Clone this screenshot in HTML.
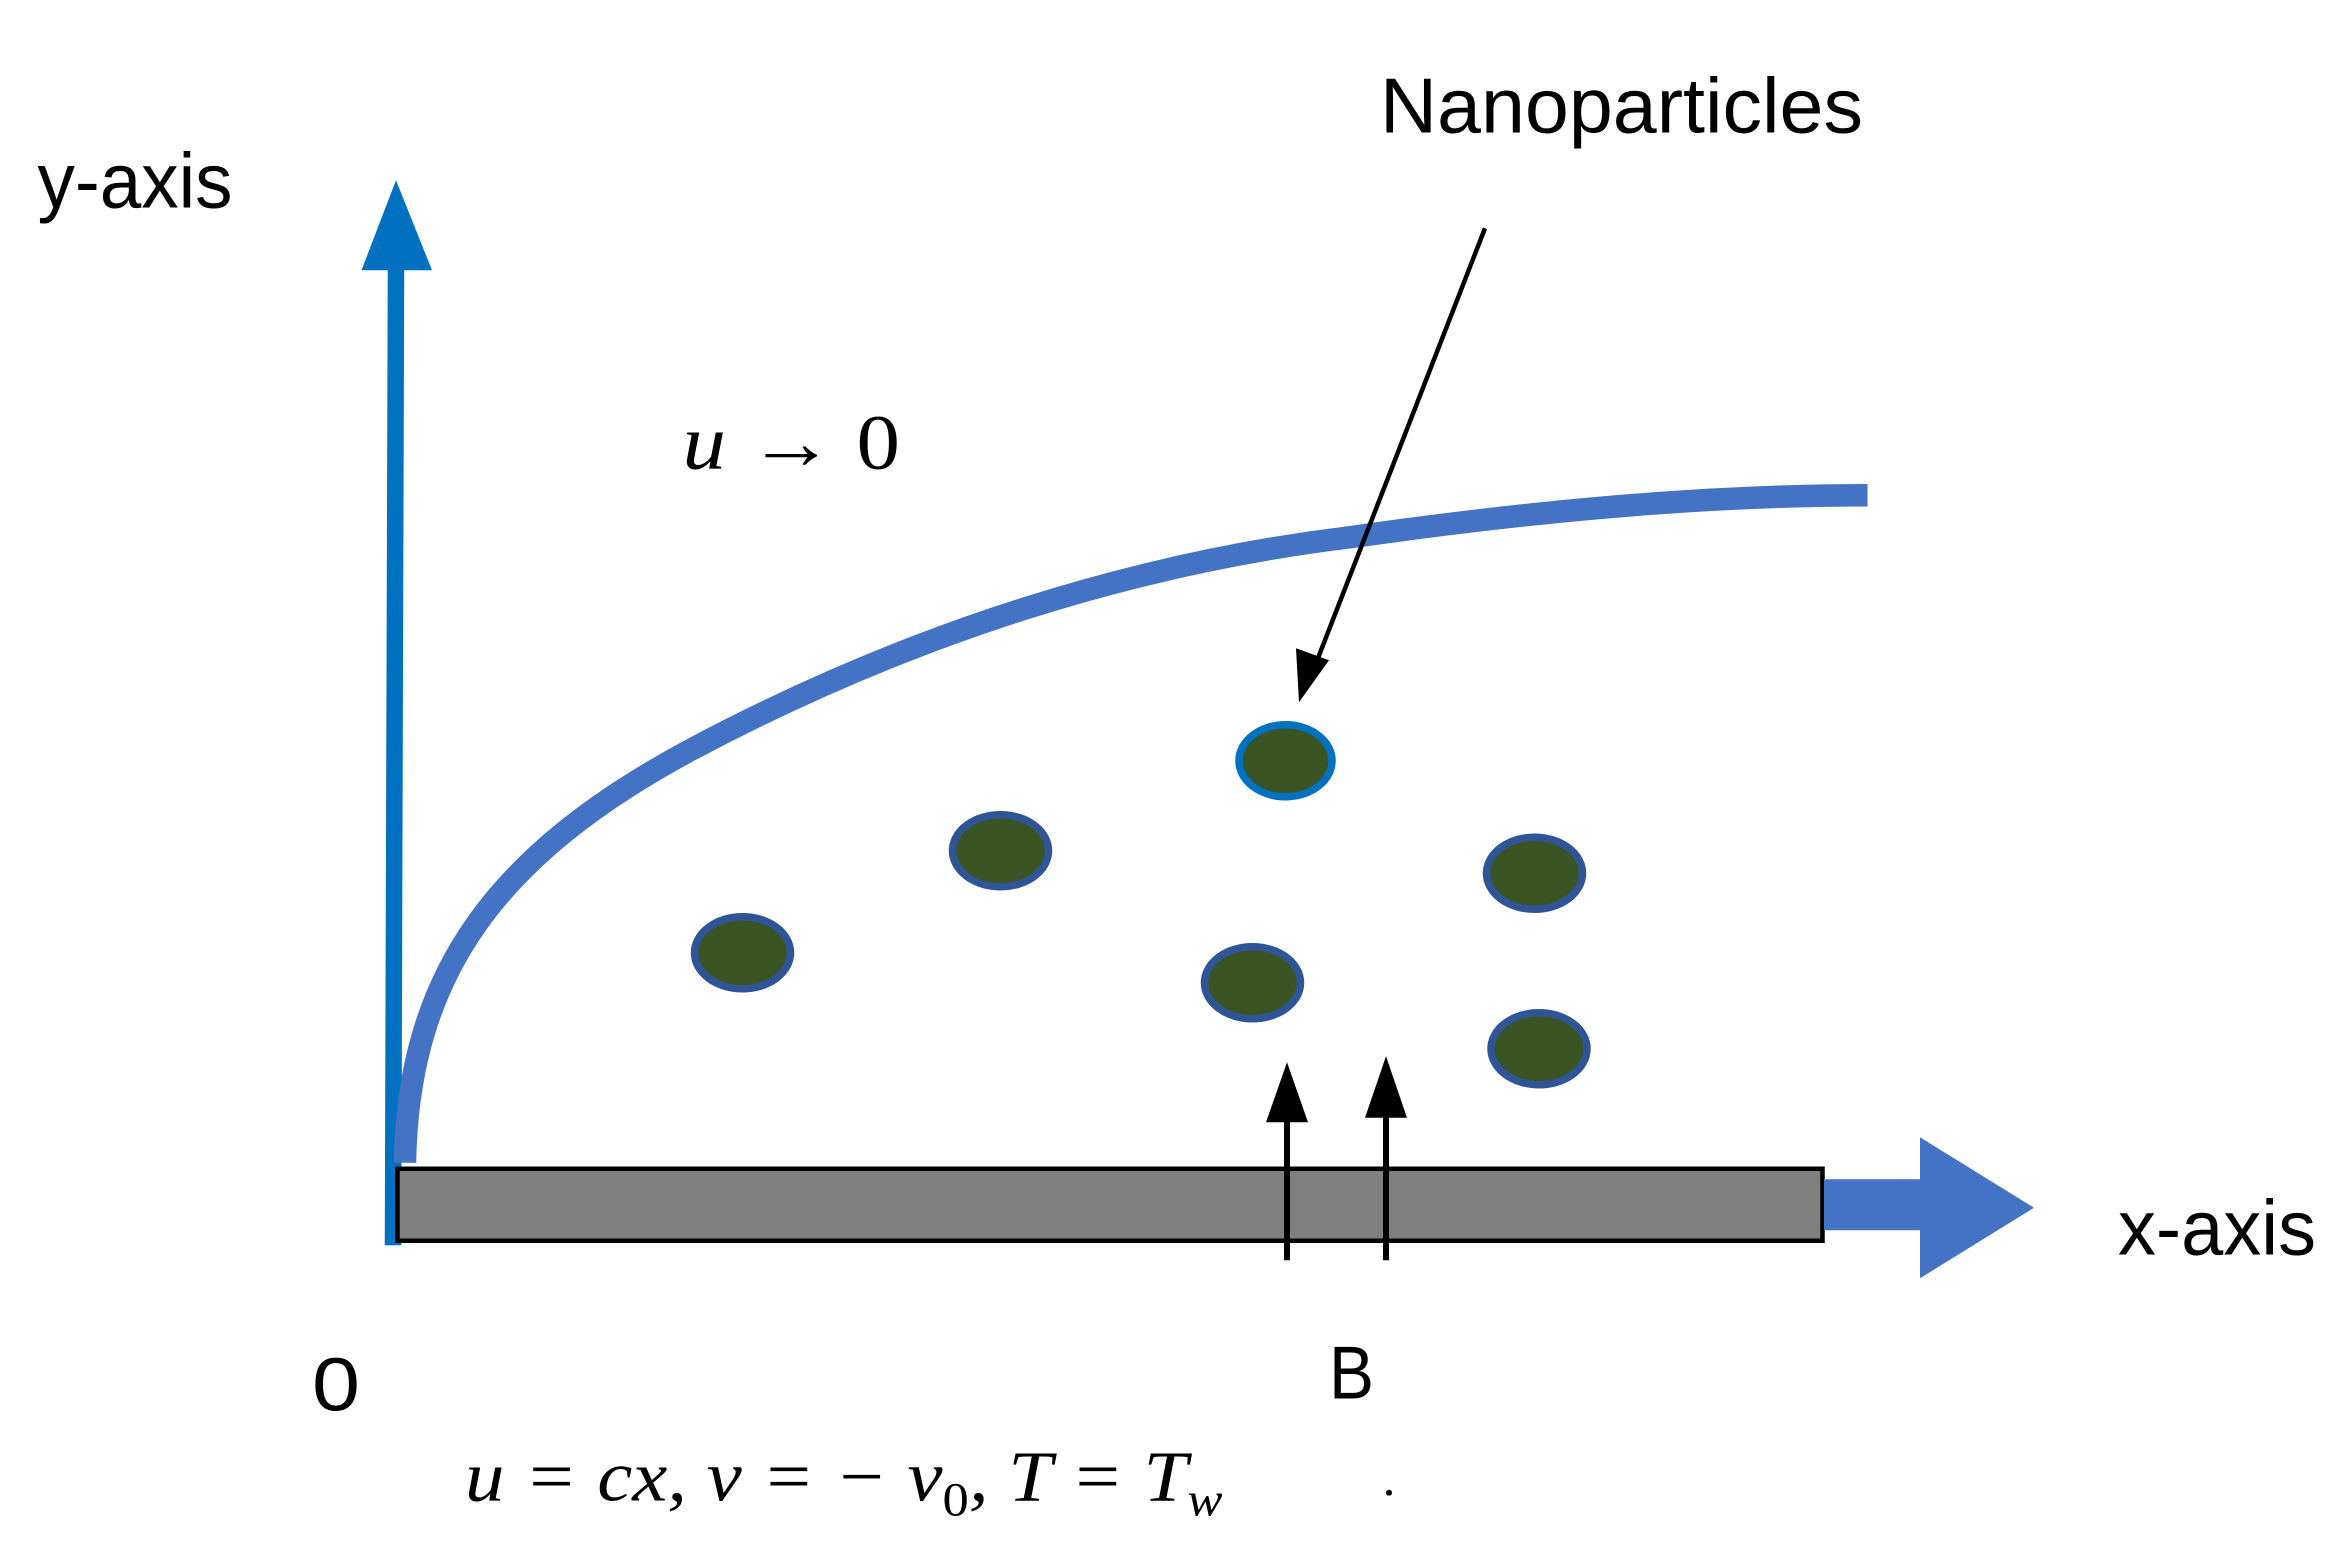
<!DOCTYPE html>
<html><head><meta charset="utf-8"><style>
html,body{margin:0;padding:0;background:#fff;}
svg{display:block;}
</style></head><body>
<svg width="2343" height="1550" viewBox="0 0 1562 1033" xmlns="http://www.w3.org/2000/svg" font-family="Liberation Sans, sans-serif">
<!-- y axis -->
<line x1="262" y1="830" x2="264" y2="175" stroke="#0070C0" stroke-width="11"/>
<polygon points="241,180 264,120 288,180" fill="#0070C0"/>
<text x="25" y="138" font-size="52" textLength="130" lengthAdjust="spacingAndGlyphs">y-axis</text>
<!-- curve -->
<path d="M270,775 C272,650 330,570 460,500 C610,420 760,375 900,358 C1040,338 1150,330 1245,330" fill="none" stroke="#4472C4" stroke-width="15"/>
<!-- bar -->
<rect x="265" y="779" width="950" height="48" fill="#808080" stroke="#000" stroke-width="3"/>
<!-- x arrow -->
<rect x="1216" y="786" width="66" height="34" fill="#4472C4"/>
<polygon points="1280,758 1356,805 1280,852" fill="#4472C4"/>
<text x="1412" y="836" font-size="52" textLength="132" lengthAdjust="spacingAndGlyphs">x-axis</text>
<!-- nanoparticles label -->
<text x="920" y="88" font-size="52" textLength="322" lengthAdjust="spacingAndGlyphs">Nanoparticles</text>
<line x1="990" y1="152" x2="875" y2="448" stroke="#000" stroke-width="3"/>
<polygon points="866,468 864,432 886,440" fill="#000"/>
<!-- u->0 -->
<text x="455" y="312" font-size="52" font-family="Liberation Serif, serif" textLength="145" lengthAdjust="spacingAndGlyphs"><tspan font-style="italic">u</tspan> → 0</text>
<!-- particles -->
<g fill="#3A5424" stroke="#2F5597" stroke-width="5">
<ellipse cx="857" cy="507" rx="31" ry="24" stroke="#0070C0"/>
<ellipse cx="667" cy="567" rx="32" ry="24"/>
<ellipse cx="495" cy="635" rx="32" ry="24"/>
<ellipse cx="835" cy="655" rx="32" ry="24"/>
<ellipse cx="1023" cy="582" rx="32" ry="24"/>
<ellipse cx="1026" cy="699" rx="32" ry="24"/>
</g>
<!-- up arrows -->
<line x1="858" y1="840" x2="858" y2="740" stroke="#000" stroke-width="4"/>
<polygon points="844,748 858,708 872,748" fill="#000"/>
<line x1="924" y1="840" x2="924" y2="740" stroke="#000" stroke-width="4"/>
<polygon points="910,745 924,704 938,745" fill="#000"/>
<!-- labels -->
<text x="208" y="940" font-size="50" textLength="32" lengthAdjust="spacingAndGlyphs">0</text>
<text x="886" y="932" font-size="50" textLength="30" lengthAdjust="spacingAndGlyphs">B</text>
<text x="310" y="1000" font-size="48" font-family="Liberation Serif, serif" font-style="italic" textLength="505" lengthAdjust="spacingAndGlyphs">u = cx, v = − v<tspan font-size="32" dy="10" font-style="normal">0</tspan><tspan dy="-10">, T =  T</tspan><tspan font-size="32" dy="10">w</tspan></text>
<circle cx="926" cy="995" r="2" fill="#000"/>
</svg>
</body></html>
